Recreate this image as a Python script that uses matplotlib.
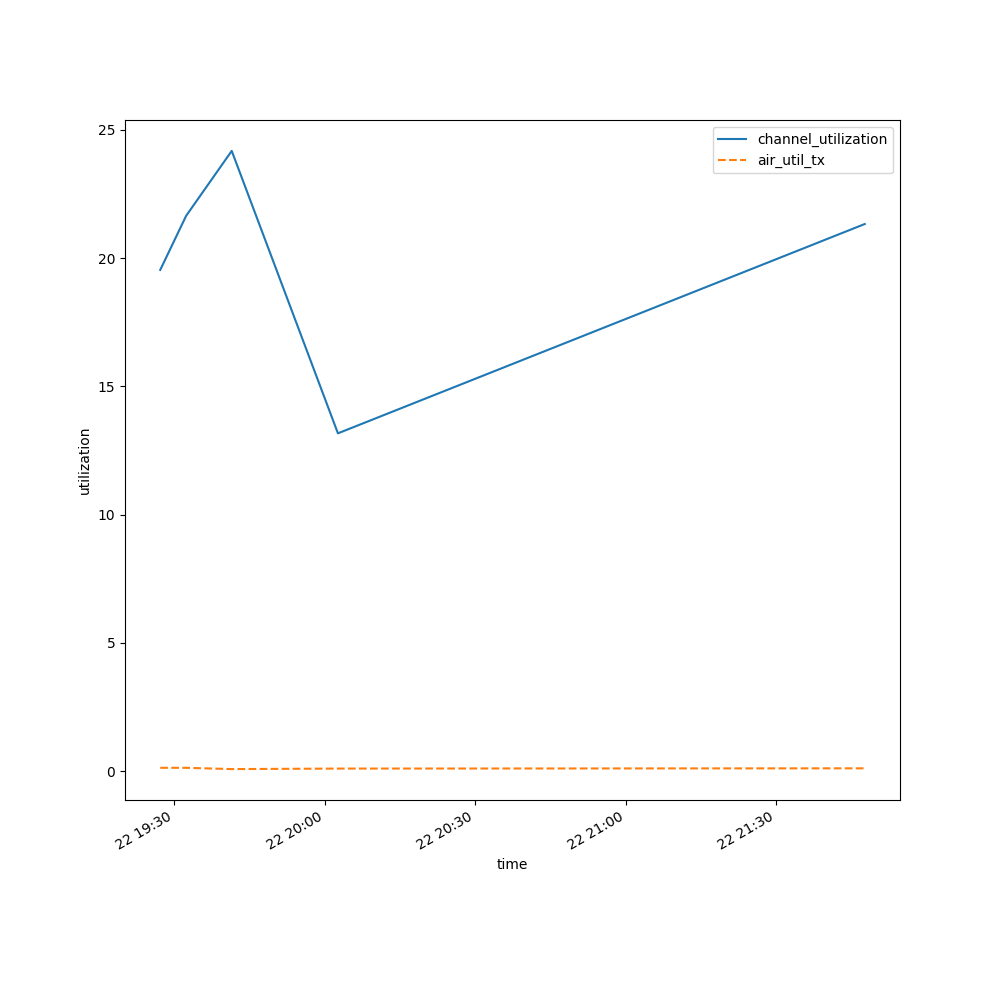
import pandas as pd
import matplotlib
matplotlib.use("Agg")
import matplotlib.pyplot as plt

# readings
times = pd.to_datetime([
    "2024-05-22 19:27:15",
    "2024-05-22 19:32:25",
    "2024-05-22 19:41:30",
    "2024-05-22 20:02:40",
    "2024-05-22 21:47:40",
])
channel_utilization = [19.54, 21.65, 24.18, 13.17, 21.33]
air_util_tx = [0.13, 0.13, 0.08, 0.10, 0.11]

fig, ax = plt.subplots(figsize=(10, 10), dpi=100)
ax.plot(times, channel_utilization, color="#1f77b4", linestyle="-", label="channel_utilization")
ax.plot(times, air_util_tx, color="#ff7f0e", linestyle="--", label="air_util_tx")
ax.set_xlabel("time")
ax.set_ylabel("utilization")
ax.legend(loc="upper right")
fig.autofmt_xdate()

plt.savefig("out.png", dpi=100)
